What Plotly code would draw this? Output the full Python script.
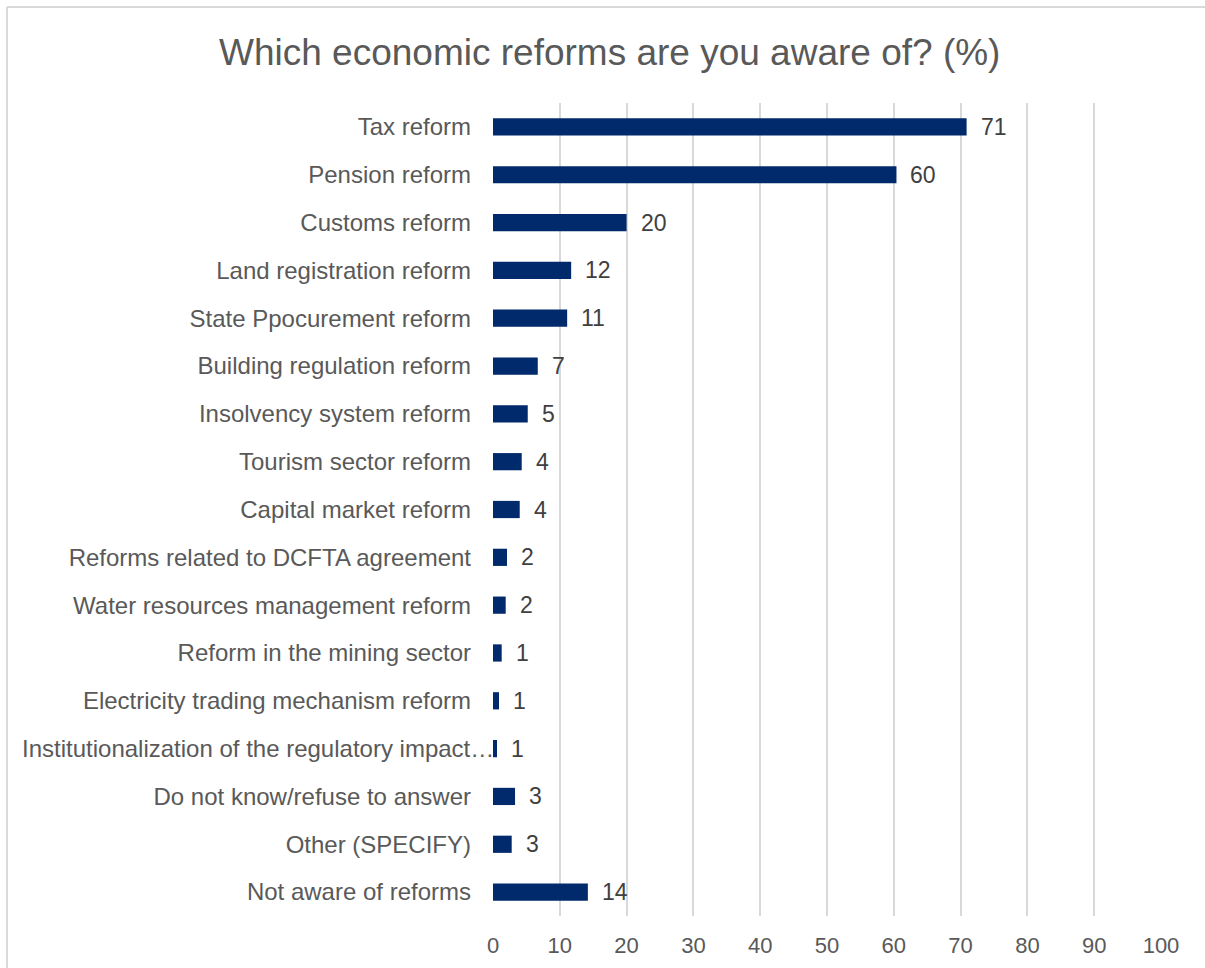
import plotly.graph_objects as go

# Survey categories, top to bottom
categories = [
    "Tax reform",
    "Pension reform",
    "Customs reform",
    "Land registration reform",
    "State Ppocurement reform",
    "Building regulation reform",
    "Insolvency system reform",
    "Tourism sector reform",
    "Capital market reform",
    "Reforms related to DCFTA agreement",
    "Water resources management reform",
    "Reform in the mining sector",
    "Electricity trading mechanism reform",
    "Institutionalization of the regulatory impact…",
    "Do not know/refuse to answer",
    "Other (SPECIFY)",
    "Not aware of reforms",
]

# Share of respondents (%)
shares = [70.9, 60.4, 20.0, 11.7, 11.1, 6.7, 5.2, 4.3, 4.0, 2.1, 1.9, 1.3, 0.9, 0.6, 3.3, 2.8, 14.2]

x_ticks = [0, 10, 20, 30, 40, 50, 60, 70, 80, 90, 100]

# the truncated label runs right up to the axis, so it is drawn separately
TRUNCATED = "Institutionalization of the regulatory impact…"

FONT = "Liberation Sans, Arial, sans-serif"
BAR = "#002A6C"
GRID = "#D9D9D9"
LABEL = "#595959"

fig = go.Figure(
    go.Bar(
        x=shares,
        y=categories,
        orientation="h",
        marker=dict(color=BAR, line=dict(width=0)),
        hoverinfo="x+y",
    )
)

# value labels placed just past each bar end
for cat, val in zip(categories, shares):
    fig.add_annotation(
        x=val, y=cat, xref="x", yref="y",
        text=f"{val:.0f}", showarrow=False,
        xanchor="left", yanchor="middle", xshift=12,
        font=dict(family=FONT, size=23, color="#404040"),
    )

fig.add_annotation(
    x=0, y=TRUNCATED, xref="paper", yref="y",
    text=TRUNCATED, showarrow=False,
    xanchor="right", yanchor="middle", xshift=3,
    font=dict(family=FONT, size=24, color=LABEL),
)

# outer frame (left and top edges)
fx = -0.7275
fy = 1.118
fig.add_shape(type="line", xref="paper", yref="paper",
              x0=fx, x1=fx, y0=-0.2, y1=fy, line=dict(color=GRID, width=2))
fig.add_shape(type="line", xref="paper", yref="paper",
              x0=fx, x1=1.2, y0=fy, y1=fy, line=dict(color=GRID, width=2))

fig.update_layout(
    width=1205,
    height=968,
    margin=dict(l=493, r=44, t=103, b=52),
    paper_bgcolor="white",
    plot_bgcolor="white",
    bargap=0.64,
    showlegend=False,
    title=dict(
        text="Which economic reforms are you aware of? (%)",
        x=0.506, xref="container", xanchor="center",
        y=1 - 52 / 968, yref="container", yanchor="middle",
        font=dict(family=FONT, size=37, color=LABEL),
    ),
    xaxis=dict(
        range=[0, 100],
        tickvals=x_ticks,
        showgrid=True, gridcolor=GRID, gridwidth=2,
        zeroline=False, showline=False,
        tickfont=dict(family=FONT, size=22, color=LABEL),
        ticks="",
        ticklabelstandoff=14,
        automargin=False,
    ),
    yaxis=dict(
        autorange="reversed",
        tickmode="array",
        tickvals=categories,
        ticktext=["" if c == TRUNCATED else c for c in categories],
        showgrid=False, zeroline=False, showline=False,
        ticks="",
        ticklabelstandoff=21,
        tickfont=dict(family=FONT, size=24, color=LABEL),
        automargin=False,
    ),
)

fig.write_html("out.html")
